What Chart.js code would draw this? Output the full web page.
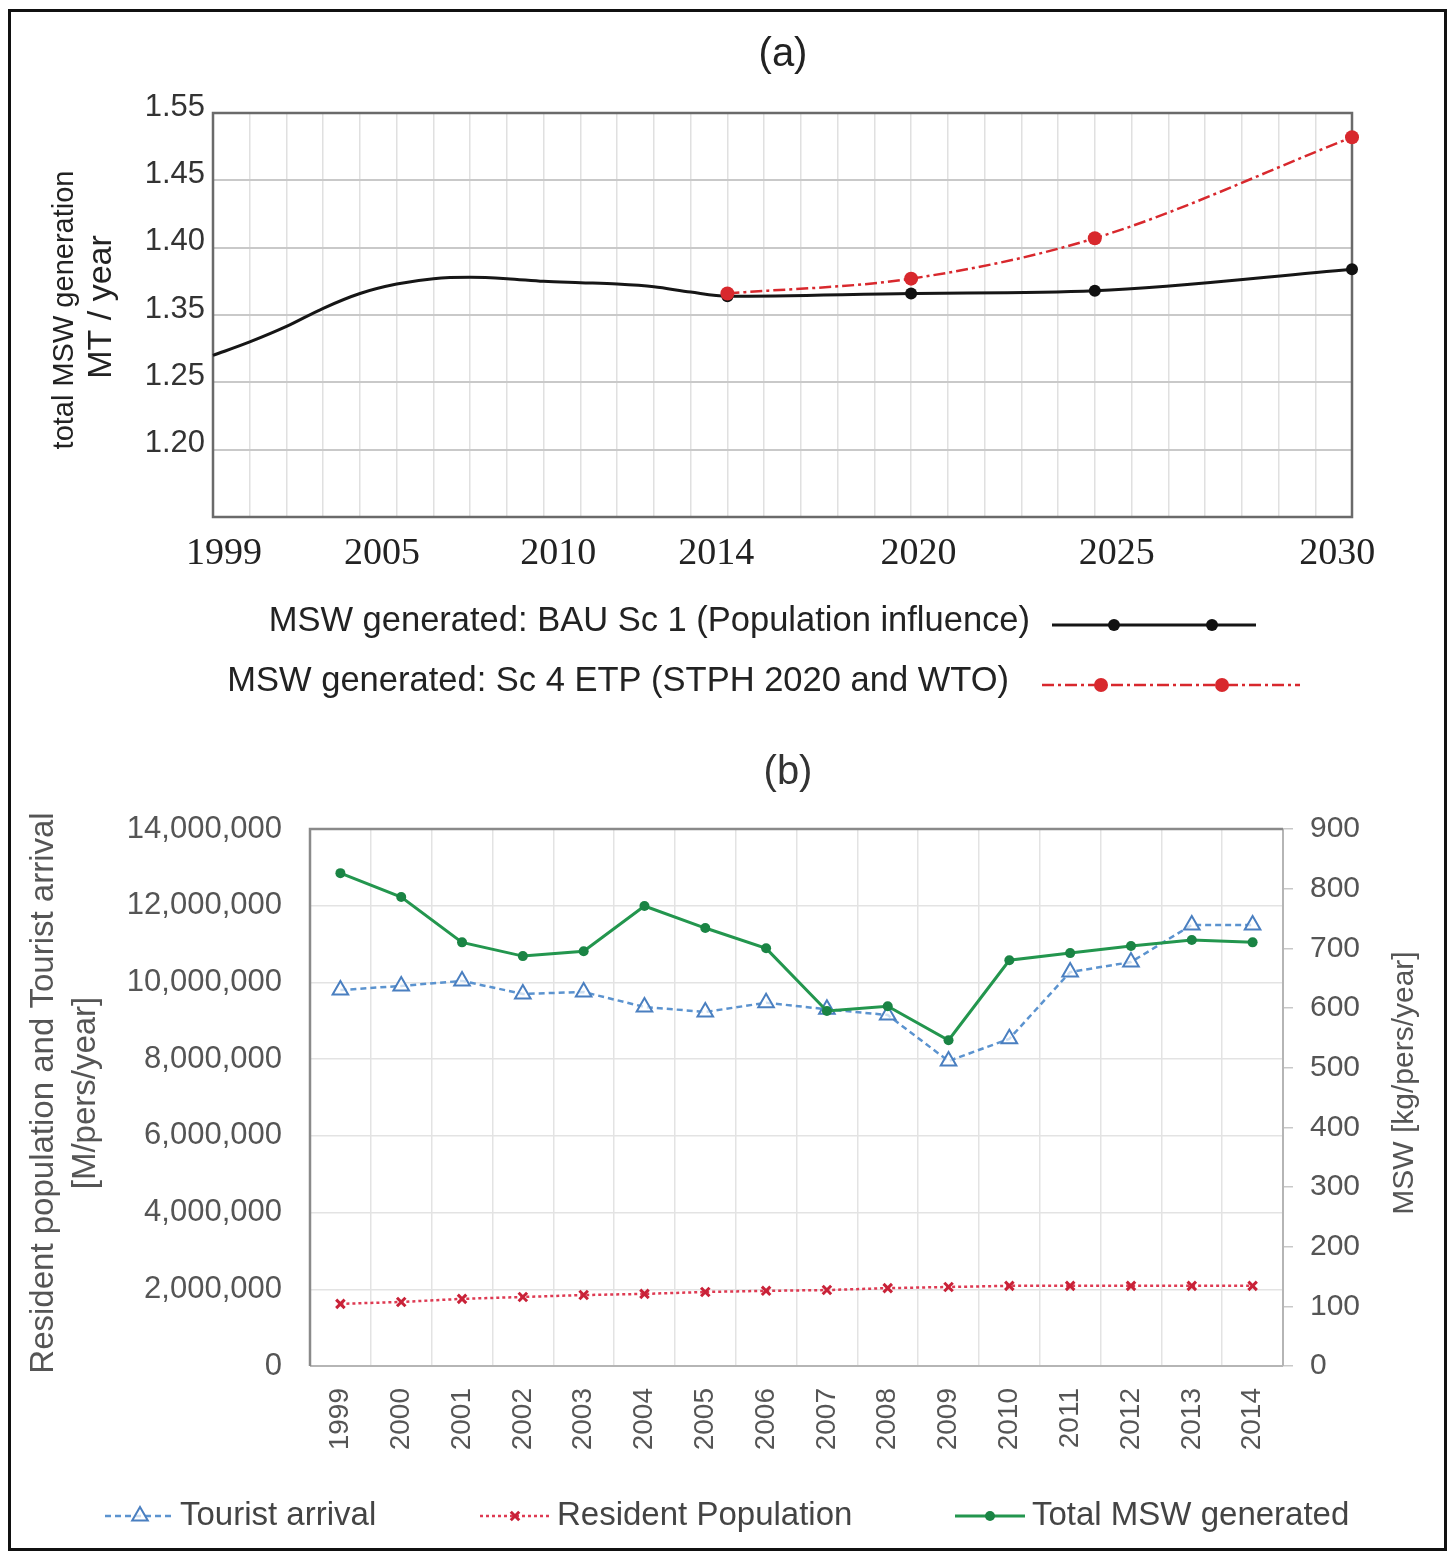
<!DOCTYPE html>
<html>
<head>
<meta charset="utf-8">
<script src="https://cdn.jsdelivr.net/npm/chart.js@4.4.1/dist/chart.umd.min.js"></script>
<style>
  html, body { margin: 0; padding: 0; background: #fff; }
  #page { position: relative; width: 1453px; height: 1552px; overflow: hidden; background: #fff; }
  #frame { position: absolute; left: 8px; top: 9px; width: 1439px; height: 1542px; border: 3px solid #111; box-sizing: border-box; }
  canvas { position: absolute; left: 0; }
  #chartA { top: 0; }
  #chartB { top: 730px; }
</style>
</head>
<body>
<div id="page">
  <canvas id="chartA" width="1453" height="730"></canvas>
  <canvas id="chartB" width="1453" height="822"></canvas>
  <div id="frame"></div>
</div>
<script>
// panel (a): x read on the yearly grid, y read against the printed tick labels
const bauYears = [1999, 2000, 2001, 2002, 2003, 2004, 2005, 2006, 2007, 2008, 2009, 2010, 2011, 2012, 2013, 2018, 2023, 2030]
const bauValues = [1.290, 1.310, 1.333, 1.355, 1.366, 1.373, 1.377, 1.378, 1.377, 1.375, 1.374, 1.373, 1.371, 1.367, 1.364, 1.366, 1.368, 1.384]
const bauMarkerYears = [2013, 2018, 2023, 2030]
const etpYears = [2013, 2018, 2023, 2030]
const etpValues = [1.366, 1.377, 1.407, 1.514]
const yTickValuesA = [1.15, 1.20, 1.25, 1.35, 1.40, 1.45, 1.55]
const yTickLabelsA = ['', '1.20', '1.25', '1.35', '1.40', '1.45', '1.55']
const xTickLabelsA = ['1999', '2005', '2010', '2014', '2020', '2025', '2030']
const xTickAtA = [1999.3, 2003.6, 2008.4, 2012.7, 2018.2, 2023.6, 2029.6]

// panel (b)
const yearsB = ['1999', '2000', '2001', '2002', '2003', '2004', '2005', '2006', '2007', '2008', '2009', '2010', '2011', '2012', '2013', '2014']
const touristArrival = [9800000, 9910000, 10040000, 9700000, 9750000, 9360000, 9230000, 9470000, 9300000, 9150000, 7950000, 8530000, 10270000, 10530000, 11500000, 11500000]
const residentPopulation = [1620000, 1670000, 1750000, 1800000, 1850000, 1880000, 1930000, 1960000, 1980000, 2030000, 2060000, 2090000, 2090000, 2090000, 2090000, 2090000]
const totalMsw = [826, 786, 710, 687, 695, 771, 734, 700, 595, 603, 546, 680, 692, 704, 714, 710]

const SANS = '"Liberation Sans", Arial, sans-serif'
const SERIF = '"Liberation Serif", "Times New Roman", serif'

// the printed y labels of (a) are unevenly spaced values on an even grid
function toGridA(v) {
  for (let i = 1; i < yTickValuesA.length; i++) {
    if (v <= yTickValuesA[i]) {
      const a = yTickValuesA[i - 1], b = yTickValuesA[i]
      return i - 1 + (v - a) / (b - a)
    }
  }
  return yTickValuesA.length - 1
}

function drawRotated(ctx, text, x, y, font, color) {
  ctx.save()
  ctx.translate(x, y)
  ctx.rotate(-Math.PI / 2)
  ctx.font = font
  ctx.fillStyle = color
  ctx.textAlign = 'center'
  ctx.textBaseline = 'middle'
  ctx.fillText(text, 0, 0)
  ctx.restore()
}

function drawMarker(ctx, style, x, y, r, fill, stroke, lw) {
  ctx.save()
  ctx.setLineDash([])
  ctx.lineWidth = lw
  ctx.strokeStyle = stroke
  ctx.fillStyle = fill
  ctx.beginPath()
  if (style === 'triangle') {
    let rad = 0
    ctx.moveTo(x + Math.sin(rad) * r, y - Math.cos(rad) * r)
    rad += 2 * Math.PI / 3
    ctx.lineTo(x + Math.sin(rad) * r, y - Math.cos(rad) * r)
    rad += 2 * Math.PI / 3
    ctx.lineTo(x + Math.sin(rad) * r, y - Math.cos(rad) * r)
    ctx.closePath()
    ctx.fill()
    ctx.stroke()
  } else if (style === 'crossRot') {
    const d = r * Math.SQRT1_2
    ctx.moveTo(x - d, y - d); ctx.lineTo(x + d, y + d)
    ctx.moveTo(x + d, y - d); ctx.lineTo(x - d, y + d)
    ctx.stroke()
  } else {
    ctx.arc(x, y, r, 0, Math.PI * 2)
    ctx.fill()
    if (lw) ctx.stroke()
  }
  ctx.restore()
}

function drawSample(ctx, ds, x1, x2, y, dots) {
  ctx.save()
  ctx.strokeStyle = ds.borderColor
  ctx.lineWidth = ds.borderWidth
  ctx.setLineDash(ds.borderDash || [])
  ctx.beginPath()
  ctx.moveTo(x1, y)
  ctx.lineTo(x2, y)
  ctx.stroke()
  ctx.restore()
  const r = Array.isArray(ds.pointRadius) ? Math.max(...ds.pointRadius) : ds.pointRadius
  dots.forEach(dx => drawMarker(ctx, ds.pointStyle || 'circle', dx, y, r, ds.pointBackgroundColor, ds.pointBorderColor, ds.pointBorderWidth || 0))
}

const frameA = {
  id: 'frameA',
  beforeDatasetsDraw(chart) {
    const { ctx, chartArea: a } = chart
    ctx.save()
    ctx.strokeStyle = '#6a6a6a'
    ctx.lineWidth = 2.5
    ctx.strokeRect(a.left, a.top, a.right - a.left, a.bottom - a.top)
    ctx.restore()
  }
}

const textA = {
  id: 'textA',
  afterDraw(chart) {
    const ctx = chart.ctx
    const ds = chart.data.datasets
    ctx.save()
    ctx.fillStyle = '#222'
    ctx.textAlign = 'center'
    ctx.textBaseline = 'middle'
    ctx.font = '40px ' + SANS
    ctx.fillText('(a)', 783, 55)
    drawRotated(ctx, 'total MSW generation', 65, 310, '29px ' + SANS, '#222')
    drawRotated(ctx, 'MT / year', 102, 307, '34px ' + SANS, '#222')

    ctx.font = '34.5px ' + SANS
    ctx.textAlign = 'right'
    ctx.fillStyle = '#222'
    ctx.fillText(ds[1].label, 1030, 621)
    ctx.fillText(ds[0].label, 1009, 681)
    ctx.restore()
    drawSample(ctx, ds[1], 1052, 1256, 625, [1114, 1212])
    drawSample(ctx, ds[0], 1042, 1300, 685, [1101, 1222])
  }
}

new Chart(document.getElementById('chartA'), {
  type: 'line',
  data: {
    datasets: [
      {
        label: 'MSW generated: Sc 4 ETP (STPH 2020 and WTO)',
        data: etpYears.map((x, i) => ({ x: x, y: toGridA(etpValues[i]) })),
        borderColor: '#d8282d',
        borderWidth: 2.5,
        borderDash: [12, 4, 3, 4],
        pointRadius: 7,
        pointBackgroundColor: '#d8282d',
        pointBorderColor: '#d8282d',
        pointBorderWidth: 0,
        cubicInterpolationMode: 'monotone',
        clip: false,
        order: 0
      },
      {
        label: 'MSW generated: BAU Sc 1 (Population influence)',
        data: bauYears.map((x, i) => ({ x: x, y: toGridA(bauValues[i]) })),
        borderColor: '#161616',
        borderWidth: 3,
        pointRadius: bauYears.map(y => bauMarkerYears.includes(y) ? 6 : 0),
        pointBackgroundColor: '#111',
        pointBorderColor: '#111',
        pointBorderWidth: 0,
        cubicInterpolationMode: 'monotone',
        clip: false,
        order: 1
      }
    ]
  },
  options: {
    responsive: false,
    animation: false,
    layout: { padding: { top: 113, right: 101, left: 0, bottom: 0 } },
    plugins: { legend: { display: false }, tooltip: { enabled: false } },
    scales: {
      x: {
        type: 'linear',
        min: 1999,
        max: 2030,
        afterBuildTicks: s => {
          const t = []
          for (let y = 1999; y <= 2030; y++) t.push({ value: y })
          xTickAtA.forEach(v => t.push({ value: v }))
          s.ticks = t.sort((a, b) => a.value - b.value)
        },
        afterFit: s => { s.height = 213 },
        ticks: {
          autoSkip: false,
          maxRotation: 0,
          padding: 14,
          color: '#222',
          font: { family: SERIF, size: 38 },
          callback: v => {
            const i = xTickAtA.indexOf(v)
            return i >= 0 ? xTickLabelsA[i] : ''
          }
        },
        grid: {
          drawTicks: false,
          color: ctx => Number.isInteger(ctx.tick.value) ? '#e0e0e0' : 'rgba(0,0,0,0)',
          lineWidth: 1.5
        },
        border: { display: false }
      },
      y: {
        type: 'linear',
        min: 0,
        max: 6,
        afterFit: s => { s.width = 213 },
        ticks: {
          stepSize: 1,
          padding: 8,
          labelOffset: -6,
          color: '#333',
          font: { family: SANS, size: 31 },
          callback: v => yTickLabelsA[v]
        },
        grid: { drawTicks: false, color: '#c9c9c9', lineWidth: 2 },
        border: { display: false }
      }
    }
  },
  plugins: [frameA, textA]
})

const frameB = {
  id: 'frameB',
  beforeDatasetsDraw(chart) {
    const { ctx, chartArea: a } = chart
    ctx.save()
    ctx.lineWidth = 2
    ctx.strokeStyle = '#b5b5b5'
    ctx.beginPath()
    ctx.moveTo(a.left, a.bottom); ctx.lineTo(a.right, a.bottom)
    ctx.moveTo(a.right, a.top); ctx.lineTo(a.right, a.bottom)
    ctx.stroke()
    ctx.lineWidth = 2.5
    ctx.strokeStyle = '#8a8a8a'
    ctx.beginPath()
    ctx.moveTo(a.left, a.bottom); ctx.lineTo(a.left, a.top); ctx.lineTo(a.right, a.top)
    ctx.stroke()
    ctx.restore()
  }
}

const textB = {
  id: 'textB',
  afterDraw(chart) {
    const ctx = chart.ctx
    const ds = chart.data.datasets
    ctx.save()
    ctx.fillStyle = '#333'
    ctx.textAlign = 'center'
    ctx.textBaseline = 'middle'
    ctx.font = '40px ' + SANS
    ctx.fillText('(b)', 788, 43)
    drawRotated(ctx, 'Resident population and Tourist arrival', 44, 363, '33px ' + SANS, '#555')
    drawRotated(ctx, '[M/pers/year]', 86, 363, '33px ' + SANS, '#555')
    drawRotated(ctx, 'MSW [kg/pers/year]', 1405, 353, '30px ' + SANS, '#555')
    ctx.restore()

    const items = [
      { d: ds[1], x1: 105, x2: 175, tx: 180 },
      { d: ds[2], x1: 480, x2: 550, tx: 557 },
      { d: ds[0], x1: 955, x2: 1025, tx: 1032 }
    ]
    items.forEach(it => {
      drawSample(ctx, it.d, it.x1, it.x2, 786, [(it.x1 + it.x2) / 2])
      ctx.save()
      ctx.font = '33px ' + SANS
      ctx.fillStyle = '#444'
      ctx.textAlign = 'left'
      ctx.textBaseline = 'middle'
      ctx.fillText(it.d.label, it.tx, 786)
      ctx.restore()
    })
  }
}

new Chart(document.getElementById('chartB'), {
  type: 'line',
  data: {
    labels: yearsB,
    datasets: [
      {
        label: 'Total MSW generated',
        data: totalMsw,
        yAxisID: 'yR',
        borderColor: '#23964e',
        borderWidth: 3,
        pointStyle: 'circle',
        pointRadius: 5,
        pointBackgroundColor: '#1a8444',
        pointBorderColor: '#1a8444',
        pointBorderWidth: 0,
        tension: 0,
        order: 0
      },
      {
        label: 'Tourist arrival',
        data: touristArrival,
        yAxisID: 'yL',
        borderColor: '#5b93cf',
        borderWidth: 2.5,
        borderDash: [6, 4],
        pointStyle: 'triangle',
        pointRadius: 9,
        pointBackgroundColor: 'rgba(255,255,255,0.7)',
        pointBorderColor: '#4a7fc0',
        pointBorderWidth: 2,
        tension: 0,
        order: 1
      },
      {
        label: 'Resident Population',
        data: residentPopulation,
        yAxisID: 'yL',
        borderColor: '#de3a52',
        borderWidth: 2.5,
        borderDash: [3, 3],
        pointStyle: 'crossRot',
        pointRadius: 6,
        pointBackgroundColor: '#d42a3c',
        pointBorderColor: '#c92238',
        pointBorderWidth: 3,
        tension: 0,
        order: 2
      }
    ]
  },
  options: {
    responsive: false,
    animation: false,
    layout: { padding: { top: 99, right: 0, left: 0, bottom: 0 } },
    plugins: { legend: { display: false }, tooltip: { enabled: false } },
    scales: {
      x: {
        type: 'category',
        offset: true,
        afterFit: s => { s.height = 186 },
        ticks: {
          autoSkip: false,
          minRotation: 90,
          maxRotation: 90,
          padding: 22,
          color: '#555',
          font: { family: SANS, size: 28 }
        },
        grid: { offset: true, drawTicks: false, color: '#e3e3e3', lineWidth: 1.5 },
        border: { display: false }
      },
      yL: {
        position: 'left',
        min: 0,
        max: 14000000,
        afterFit: s => { s.width = 310 },
        ticks: {
          stepSize: 2000000,
          padding: 28,
          color: '#555',
          font: { family: SANS, size: 31 },
          callback: v => v.toLocaleString('en-US')
        },
        grid: { drawTicks: false, color: '#e3e3e3', lineWidth: 1.5 },
        border: { display: false }
      },
      yR: {
        position: 'right',
        min: 0,
        max: 900,
        afterFit: s => { s.width = 170 },
        ticks: {
          stepSize: 100,
          padding: 17,
          color: '#555',
          font: { family: SANS, size: 30 }
        },
        grid: { drawOnChartArea: false, tickLength: 10, color: '#c8c8c8', lineWidth: 1.5 },
        border: { display: false }
      }
    }
  },
  plugins: [frameB, textB]
})
</script>
</body>
</html>
